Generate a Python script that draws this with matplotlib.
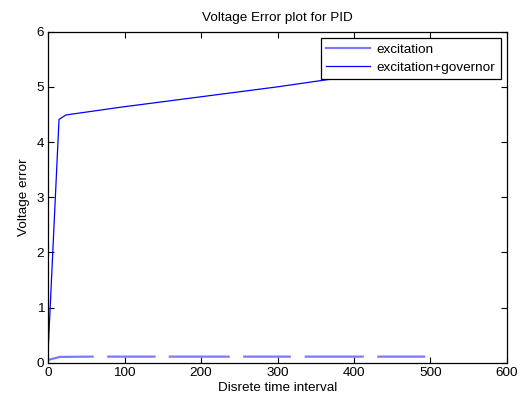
import numpy as np
import matplotlib
matplotlib.use("Agg")
import matplotlib.pyplot as plt

plt.rcParams['font.family'] = ['Liberation Sans', 'DejaVu Sans']

# excitation (light blue, appears broken into segments)
exc_x = [0, 15, 58, np.nan, 78.5, 139, np.nan, 159, 236, np.nan, 256.5, 316, np.nan, 337, 411.5, np.nan, 432, 492]
exc_y = [0.05, 0.105, 0.11, np.nan, 0.11, 0.11, np.nan, 0.11, 0.11, np.nan, 0.11, 0.11, np.nan, 0.11, 0.11, np.nan, 0.11, 0.11]

# excitation+governor (dark blue)
gov_x = [0, 14, 23, 94, 300, 370, 500]
gov_y = [0.29, 4.41, 4.49, 4.63, 5.0, 5.14, 5.38]

FS = 9.7

fig = plt.figure(figsize=(5.23, 3.98), dpi=100)
ax = fig.add_axes([0.0924, 0.0887, 0.8764, 0.8317])

ax.plot(exc_x, exc_y, color='#7a7aff', lw=1.6, label='excitation')
ax.plot(gov_x, gov_y, color='#0000ff', lw=0.9, label='excitation+governor')

ax.set_xlim(0, 600)
ax.set_ylim(0, 6)
ax.set_xticks([0, 100, 200, 300, 400, 500, 600])
ax.set_yticks([0, 1, 2, 3, 4, 5, 6])
ax.tick_params(direction='in', top=True, right=True, length=4, width=0.8, labelsize=FS, pad=3)
for s in ax.spines.values():
    s.set_linewidth(0.9)

ax.set_title('Voltage Error plot for PID', fontsize=FS, pad=8)
ax.set_xlabel('Disrete time interval', fontsize=FS, labelpad=2)
ax.set_ylabel('Voltage error', fontsize=FS, labelpad=5)

leg = ax.legend(loc='upper right', fontsize=FS, fancybox=False, framealpha=1,
                edgecolor='black', handlelength=3.3, borderaxespad=0.45,
                borderpad=0.4, labelspacing=0.45, handletextpad=0.45)
leg.get_frame().set_linewidth(0.9)

fig.savefig('out.png', dpi=100)
